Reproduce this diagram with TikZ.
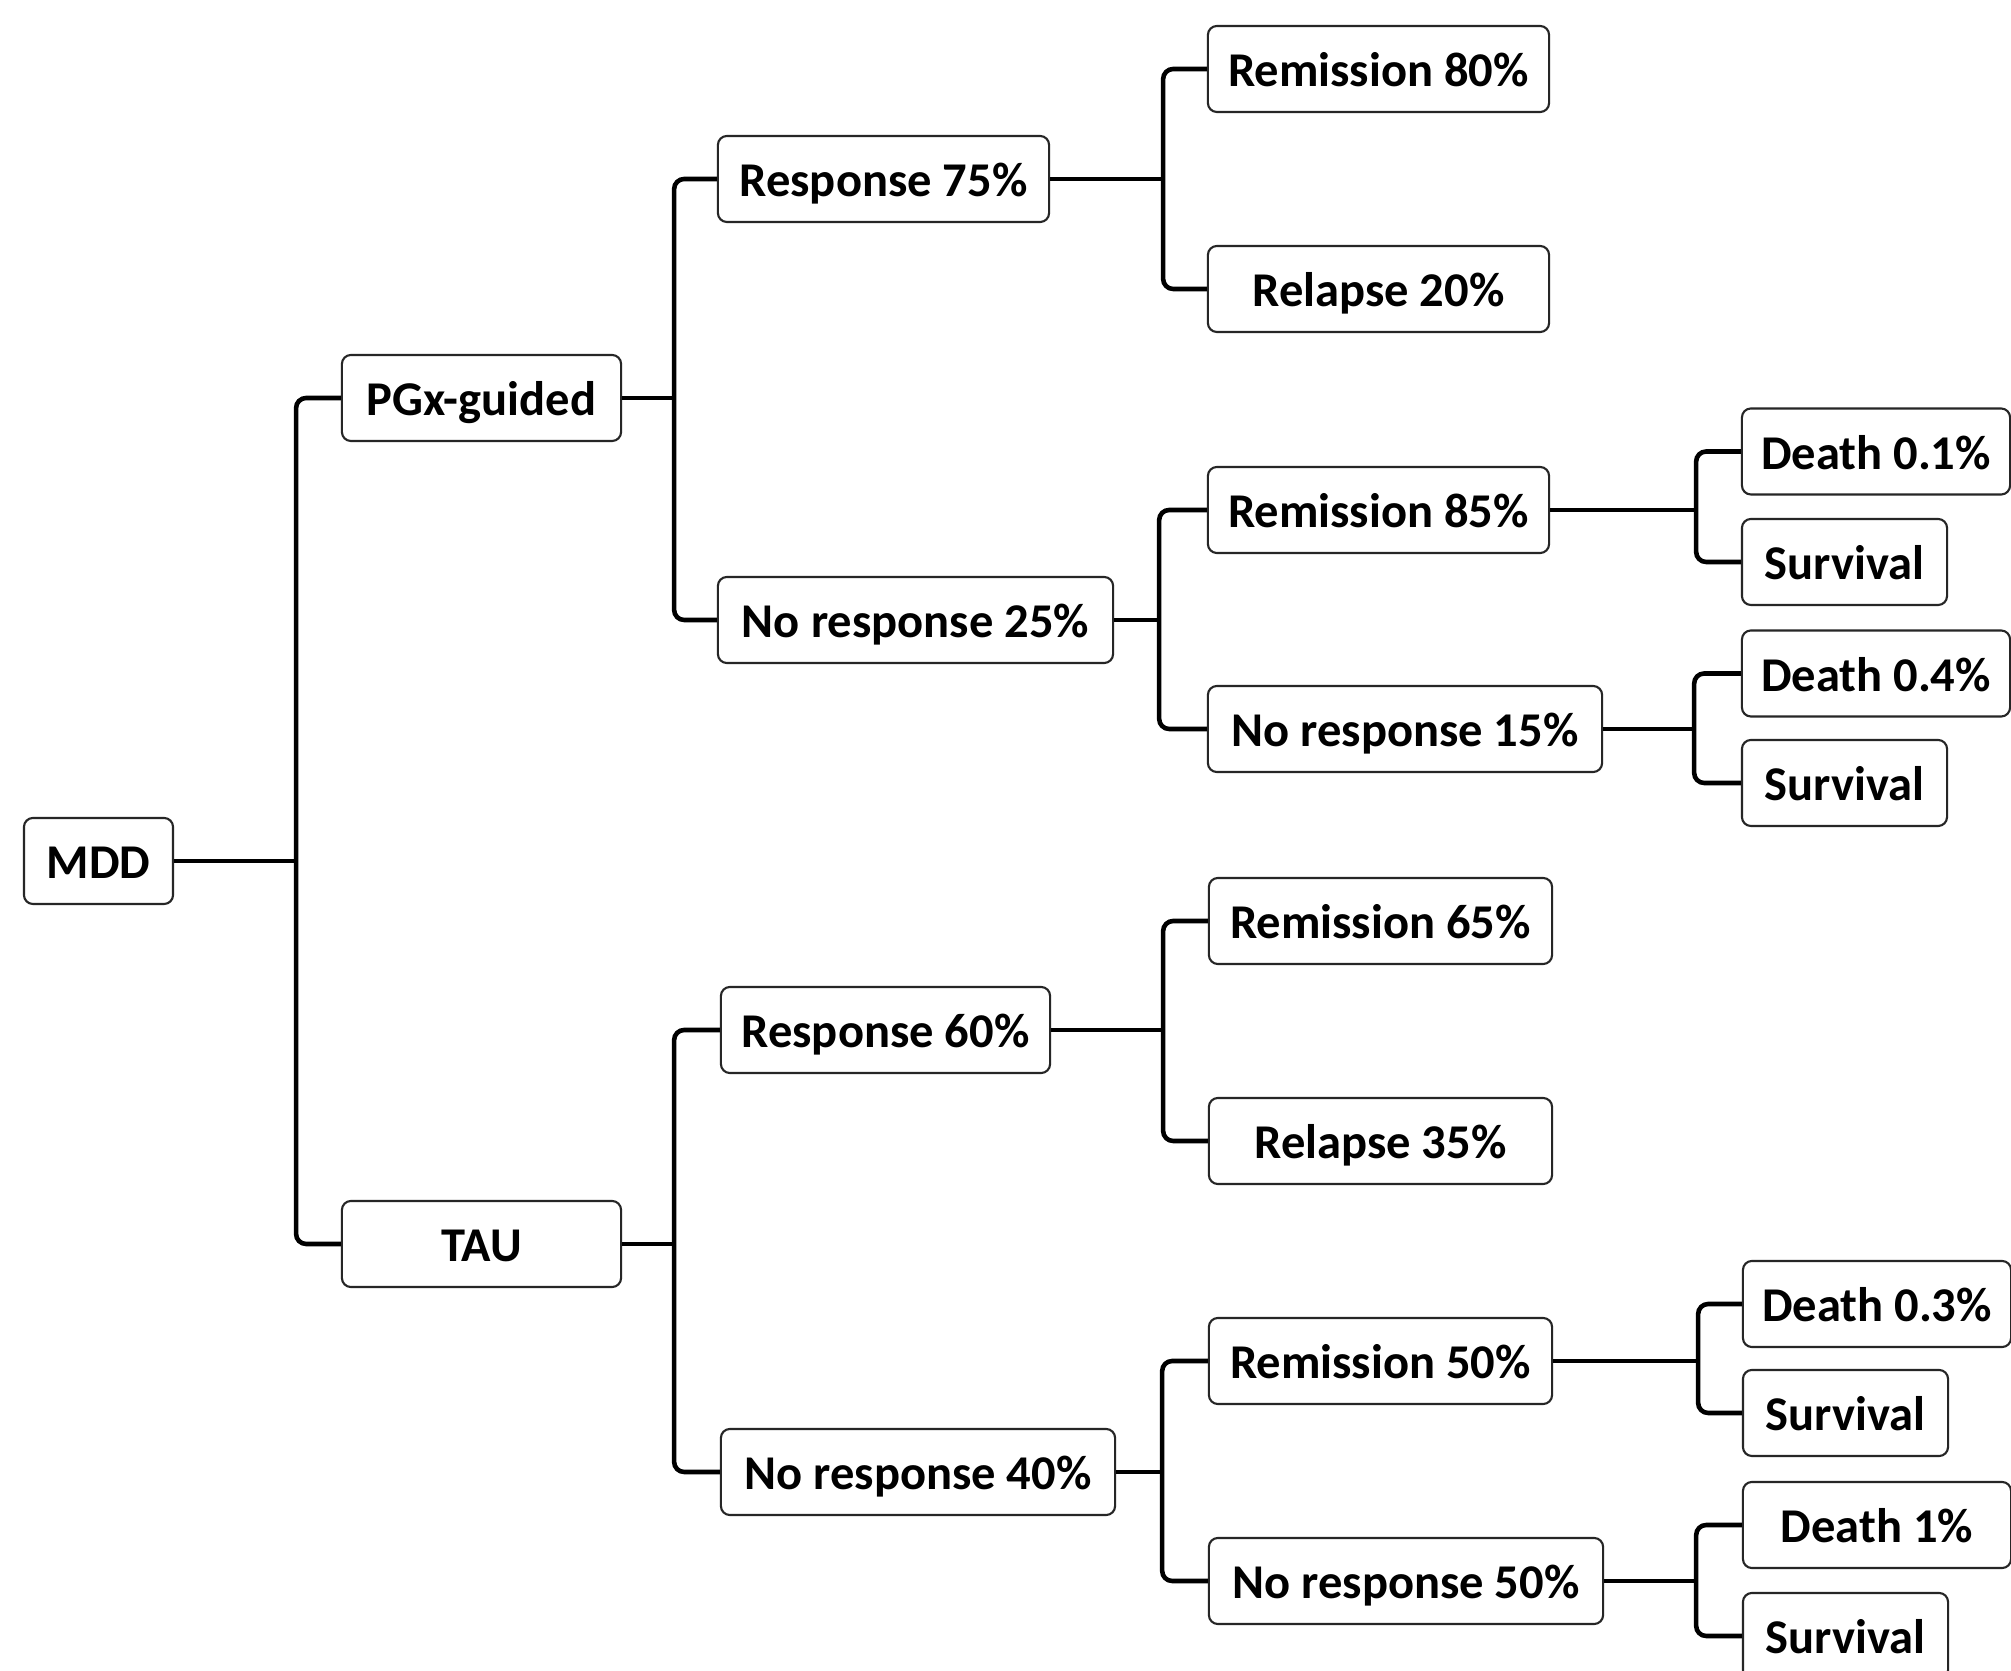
\documentclass[tikz,border=0pt]{standalone}
\usepackage{fontspec}
\setmainfont{Carlito}
\begin{document}
\begin{tikzpicture}[x=0.01cm,y=-0.01cm,
  box/.style={draw=black!85, line width=0.6pt, rounded corners=0.09cm, minimum height=0.86cm, inner sep=0pt, text height=10pt, text depth=0pt, font=\fontsize{13.8}{16}\selectfont\bfseries, text=black},
  conn/.style={draw=black, line width=1.3pt, rounded corners=0.1cm}]
\clip (0,0) rectangle (2011,1671);
\fill[white] (0,0) rectangle (2011,1671);
% level 0
\node[box, minimum width=1.49cm] (mdd) at (98.5,861) {MDD};
% level 1
\node[box, minimum width=2.79cm] (pgx) at (481.5,398) {PGx-guided};
\node[box, minimum width=2.79cm] (tau) at (481.5,1244) {TAU};
% level 2
\node[box, minimum width=3.31cm] (r75) at (883.5,179) {Response 75\%};
\node[box, minimum width=3.95cm] (nr25) at (915.5,620) {No response 25\%};
\node[box, minimum width=3.29cm] (r60) at (885.5,1030) {Response 60\%};
\node[box, minimum width=3.94cm] (nr40) at (918,1472) {No response 40\%};
% level 3
\node[box, minimum width=3.41cm] (rem80) at (1378.5,69) {Remission 80\%};
\node[box, minimum width=3.41cm] (rel20) at (1378.5,289) {Relapse 20\%};
\node[box, minimum width=3.41cm] (rem85) at (1378.5,510) {Remission 85\%};
\node[box, minimum width=3.94cm] (nr15) at (1405,729) {No response 15\%};
\node[box, minimum width=3.43cm] (rem65) at (1380.5,921) {Remission 65\%};
\node[box, minimum width=3.43cm] (rel35) at (1380.5,1141) {Relapse 35\%};
\node[box, minimum width=3.43cm] (rem50) at (1380.5,1361) {Remission 50\%};
\node[box, minimum width=3.94cm] (nr50) at (1406,1581) {No response 50\%};
% level 4
\node[box, minimum width=2.68cm] (d01) at (1876,451.5) {Death 0.1\%};
\node[box, minimum width=2.05cm] (s1) at (1844.5,562) {Survival};
\node[box, minimum width=2.68cm] (d04) at (1876,673.5) {Death 0.4\%};
\node[box, minimum width=2.05cm] (s2) at (1844.5,783) {Survival};
\node[box, minimum width=2.68cm] (d03) at (1877,1304) {Death 0.3\%};
\node[box, minimum width=2.05cm] (s3) at (1845.5,1413) {Survival};
\node[box, minimum width=2.68cm] (d1) at (1877,1525) {Death 1\%};
\node[box, minimum width=2.05cm] (s4) at (1845.5,1636) {Survival};
% connectors
\draw[conn] (mdd.east) -- ++(122,0) coordinate (j0);
\draw[conn] (pgx.west) -| (j0) |- (tau.west);
\draw[conn] (pgx.east) -- ++(52,0) coordinate (j1);
\draw[conn] (r75.west) -| (j1) |- (nr25.west);
\draw[conn] (tau.east) -- ++(52,0) coordinate (j2);
\draw[conn] (r60.west) -| (j2) |- (nr40.west);
\draw[conn] (r75.east) -- ++(113,0) coordinate (j3);
\draw[conn] (rem80.west) -| (j3) |- (rel20.west);
\draw[conn] (nr25.east) -- ++(45,0) coordinate (j4);
\draw[conn] (rem85.west) -| (j4) |- (nr15.west);
\draw[conn] (r60.east) -- ++(112,0) coordinate (j5);
\draw[conn] (rem65.west) -| (j5) |- (rel35.west);
\draw[conn] (nr40.east) -- ++(46,0) coordinate (j6);
\draw[conn] (rem50.west) -| (j6) |- (nr50.west);
\draw[conn] (rem85.east) -- ++(146,0) coordinate (j7);
\draw[conn] (d01.west) -| (j7) |- (s1.west);
\draw[conn] (nr15.east) -- ++(91,0) coordinate (j8);
\draw[conn] (d04.west) -| (j8) |- (s2.west);
\draw[conn] (rem50.east) -- ++(145,0) coordinate (j9);
\draw[conn] (d03.west) -| (j9) |- (s3.west);
\draw[conn] (nr50.east) -- ++(92,0) coordinate (j10);
\draw[conn] (d1.west) -| (j10) |- (s4.west);
\end{tikzpicture}
\end{document}
